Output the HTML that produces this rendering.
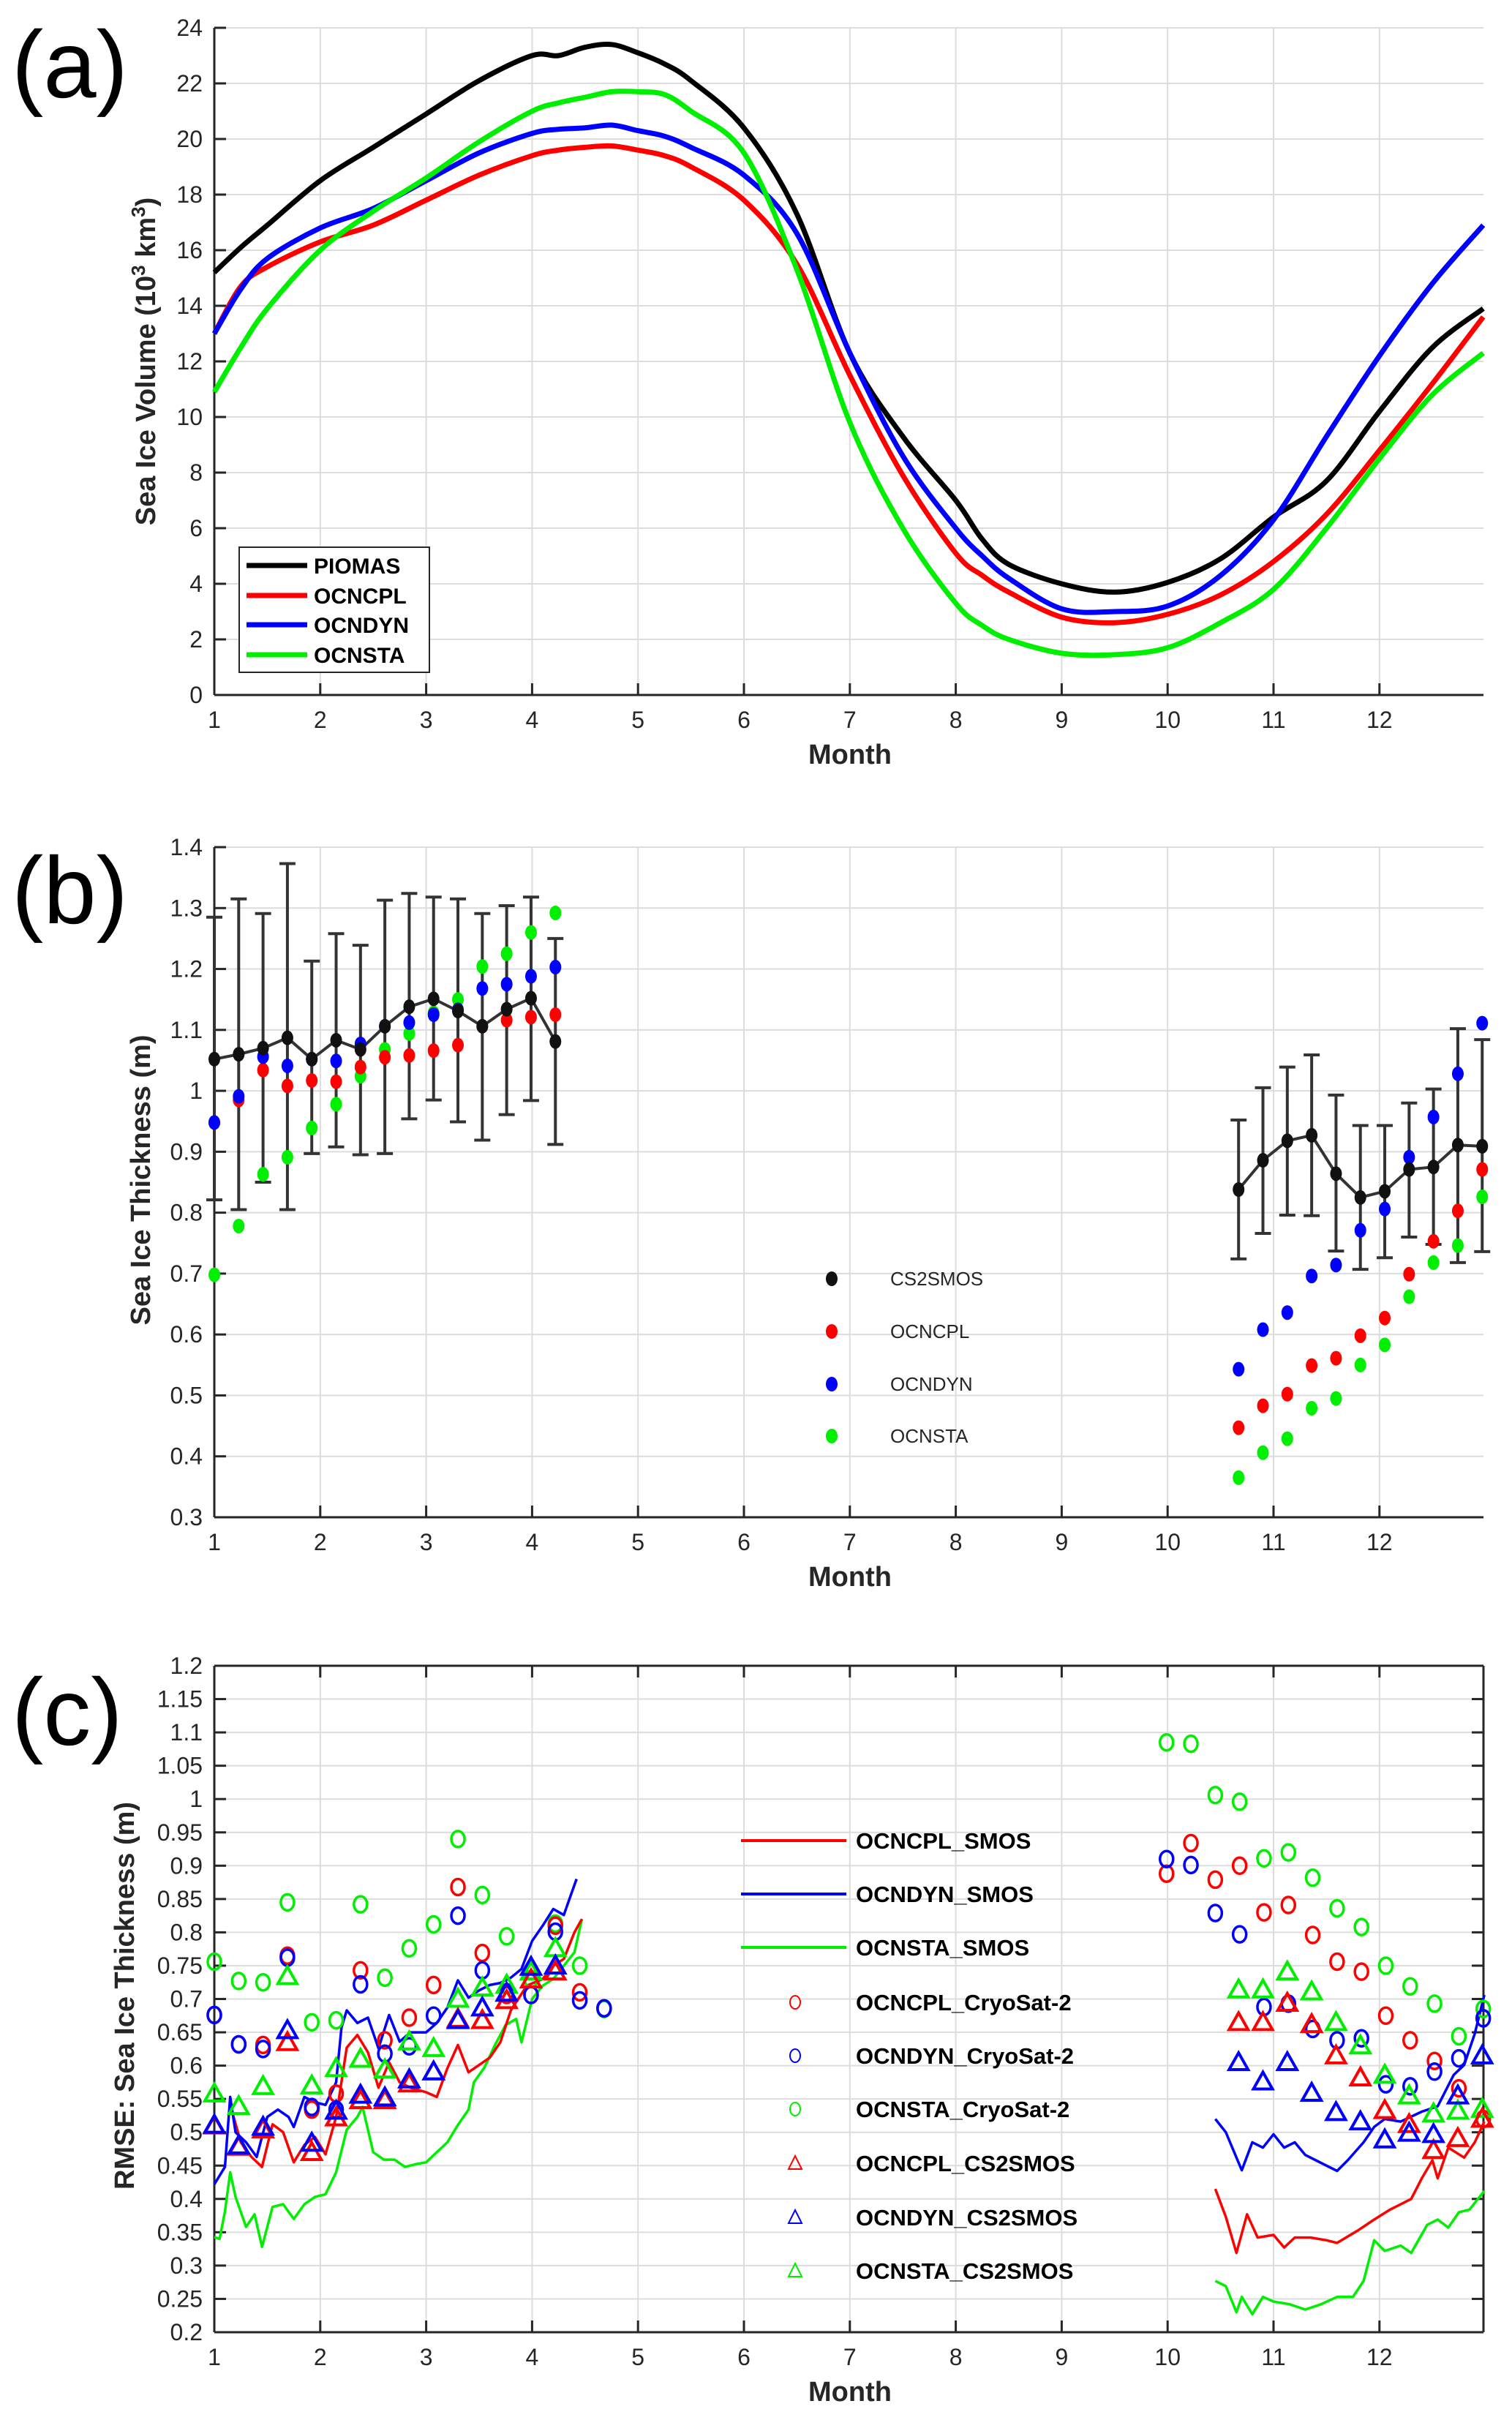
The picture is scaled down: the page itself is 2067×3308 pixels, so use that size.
<!DOCTYPE html>
<html><head><meta charset="utf-8"><title>Sea ice charts</title>
<style>
html,body{margin:0;padding:0;background:#fff;}
svg{display:block;font-family:"Liberation Sans",sans-serif;}
.tick{font-size:32px;fill:#262626;}
.ttl{font-size:38px;font-weight:bold;fill:#262626;}
</style></head>
<body>
<svg id="fig" width="2067" height="3308" viewBox="0 0 2067 3308" xmlns="http://www.w3.org/2000/svg">
<rect width="2067" height="3308" fill="#fff"/>
</svg>
<script>
// ---------- DATA ----------
const monthTicks=[1,2,3,4,5,6,7,8,9,10,11,12];
// Panel (a)
const aMonths=[1,1.25,1.5,2,2.5,3,3.5,4,4.25,4.5,4.75,5,5.25,5.5,6,6.5,7,7.5,8,8.25,8.5,9,9.5,10,10.5,11,11.5,12,12.5,12.98];
const aPIOMAS=[15.2,16.1,16.9,18.5,19.7,20.9,22.1,23.0,23.0,23.3,23.4,23.1,22.7,22.1,20.4,17.3,12.3,9.3,7.0,5.6,4.7,4.0,3.7,4.05,4.9,6.4,7.7,10.2,12.5,13.9];
const aOCNCPL=[13.0,14.7,15.4,16.3,16.9,17.8,18.7,19.4,19.6,19.7,19.75,19.6,19.4,19.0,17.8,15.5,11.5,7.9,5.1,4.3,3.7,2.8,2.6,2.9,3.6,4.8,6.5,8.8,11.2,13.6];
const aOCNDYN=[13.0,14.6,15.7,16.8,17.5,18.5,19.5,20.2,20.35,20.4,20.5,20.3,20.1,19.7,18.7,16.6,12.3,8.6,6.0,5.0,4.2,3.1,3.0,3.2,4.3,6.3,9.3,12.2,14.8,16.9];
const aOCNSTA=[10.9,12.5,13.9,16.0,17.4,18.6,19.9,21.0,21.3,21.5,21.7,21.7,21.6,21.0,19.5,15.3,9.8,6.0,3.3,2.5,2.0,1.5,1.45,1.7,2.6,3.8,6.0,8.5,10.8,12.3];
const aTicks=[0,2,4,6,8,10,12,14,16,18,20,22,24];
// Panel (b)
const bMonths1=[1,1.23,1.46,1.69,1.92,2.15,2.38,2.61,2.84,3.07,3.30,3.53,3.76,3.99,4.22];
const bCS1=[1.052,1.060,1.070,1.087,1.052,1.083,1.068,1.106,1.138,1.151,1.131,1.106,1.134,1.152,1.081];
const bUp1=[1.285,1.315,1.291,1.373,1.213,1.258,1.239,1.313,1.324,1.318,1.315,1.291,1.304,1.318,1.250];
const bLo1=[0.821,0.805,0.850,0.805,0.897,0.908,0.895,0.897,0.954,0.985,0.949,0.919,0.961,0.984,0.912];
const bCPL1=[0.948,0.985,1.034,1.008,1.017,1.015,1.039,1.055,1.058,1.066,1.075,1.106,1.116,1.121,1.125];
const bDYN1=[0.948,0.991,1.056,1.041,1.052,1.049,1.077,1.106,1.112,1.125,1.133,1.168,1.175,1.188,1.203];
const bSTA1=[0.698,0.778,0.863,0.891,0.939,0.978,1.024,1.068,1.094,1.128,1.150,1.204,1.225,1.260,1.292];
const bMonths2=[10.67,10.90,11.13,11.36,11.59,11.82,12.05,12.28,12.51,12.74,12.97];
const bCS2=[0.838,0.886,0.918,0.927,0.864,0.825,0.835,0.871,0.875,0.911,0.909];
const bUp2=[0.952,1.005,1.039,1.059,0.993,0.943,0.943,0.980,1.003,1.102,1.084];
const bLo2=[0.724,0.766,0.796,0.795,0.737,0.707,0.726,0.760,0.748,0.718,0.736];
const bCPL2=[0.447,0.483,0.502,0.549,0.561,0.598,0.627,0.699,0.753,0.803,0.871];
const bDYN2=[0.543,0.608,0.636,0.696,0.714,0.771,0.806,0.891,0.957,1.028,1.111];
const bSTA2=[0.365,0.406,0.429,0.479,0.495,0.550,0.583,0.662,0.718,0.746,0.826];
const bTicks=[0.3,0.4,0.5,0.6,0.7,0.8,0.9,1,1.1,1.2,1.3,1.4];
// Panel (c) lines
const cCPLm1=[1.15,1.25,1.35,1.45,1.55,1.65,1.75,1.85,1.95,2.05,2.15,2.25,2.35,2.45,2.55,2.65,2.75,2.85,3.0,3.1,3.2,3.3,3.4,3.5,3.6,3.7,3.8,3.95,4.1,4.2,4.3,4.4,4.47];
const cCPLv1=[0.541,0.485,0.463,0.448,0.512,0.500,0.455,0.481,0.493,0.467,0.523,0.627,0.646,0.620,0.567,0.605,0.575,0.567,0.560,0.553,0.596,0.631,0.590,0.601,0.612,0.635,0.683,0.72,0.73,0.75,0.76,0.80,0.82];
const cDYNm1=[1.0,1.1,1.15,1.2,1.3,1.4,1.5,1.6,1.7,1.75,1.85,1.95,2.05,2.15,2.2,2.25,2.35,2.45,2.55,2.65,2.75,2.85,3.0,3.1,3.2,3.3,3.4,3.5,3.6,3.7,3.8,3.9,4.0,4.1,4.2,4.3,4.35,4.42];
const cDYNv1=[0.422,0.448,0.553,0.500,0.485,0.463,0.523,0.534,0.523,0.508,0.553,0.545,0.541,0.575,0.657,0.683,0.664,0.672,0.626,0.676,0.636,0.650,0.650,0.664,0.687,0.728,0.702,0.713,0.721,0.724,0.732,0.745,0.787,0.810,0.835,0.826,0.849,0.880];
const cSTAm1=[1.0,1.05,1.1,1.15,1.2,1.3,1.38,1.45,1.55,1.65,1.75,1.85,1.95,2.05,2.15,2.25,2.35,2.4,2.5,2.6,2.7,2.8,2.9,3.0,3.1,3.2,3.3,3.4,3.45,3.55,3.65,3.75,3.85,3.9,4.0,4.1,4.2,4.3,4.4,4.47];
const cSTAv1=[0.343,0.340,0.381,0.440,0.403,0.358,0.377,0.328,0.388,0.392,0.370,0.392,0.403,0.407,0.440,0.504,0.523,0.538,0.470,0.459,0.459,0.448,0.452,0.455,0.470,0.485,0.511,0.534,0.575,0.597,0.631,0.661,0.67,0.635,0.70,0.72,0.73,0.75,0.77,0.82];
const cDYNm2=[10.45,10.55,10.65,10.7,10.8,10.9,11.0,11.1,11.2,11.3,11.4,11.5,11.6,11.7,11.85,11.95,12.05,12.2,12.4,12.55,12.7,12.8,12.9,12.99];
const cDYNv2=[0.520,0.500,0.462,0.443,0.485,0.477,0.497,0.477,0.485,0.466,0.458,0.450,0.442,0.458,0.485,0.508,0.520,0.516,0.531,0.539,0.586,0.601,0.648,0.706];
const cCPLm2=[10.45,10.55,10.65,10.75,10.85,11.0,11.1,11.2,11.35,11.5,11.6,11.8,11.95,12.1,12.3,12.4,12.5,12.55,12.65,12.8,12.9,12.99];
const cCPLv2=[0.415,0.373,0.319,0.377,0.342,0.346,0.327,0.342,0.342,0.338,0.334,0.353,0.369,0.384,0.400,0.431,0.458,0.431,0.477,0.462,0.485,0.516];
const cSTAm2=[10.45,10.55,10.65,10.7,10.8,10.9,11.0,11.15,11.3,11.45,11.6,11.75,11.85,11.95,12.05,12.2,12.3,12.45,12.55,12.65,12.75,12.85,12.99];
const cSTAv2=[0.277,0.269,0.230,0.253,0.227,0.253,0.246,0.242,0.234,0.242,0.253,0.253,0.277,0.338,0.322,0.330,0.319,0.361,0.369,0.357,0.380,0.384,0.412];
// Panel (c) CryoSat-2 circles
const cCircM1=[1,1.23,1.46,1.69,1.92,2.15,2.38,2.61,2.84,3.07,3.30,3.53,3.76,3.99,4.22,4.45,4.68];
const cCircCPL1=[0.676,0.632,0.631,0.765,0.534,0.558,0.743,0.638,0.672,0.721,0.868,0.769,0.706,0.706,0.810,0.710,0.686];
const cCircDYN1=[0.676,0.632,0.625,0.762,0.538,0.534,0.722,0.618,0.629,0.675,0.825,0.743,0.710,0.706,0.801,0.698,0.686];
const cCircSTA1=[0.756,0.727,0.725,0.845,0.665,0.668,0.842,0.732,0.776,0.812,0.940,0.856,0.794,0.73,0.813,0.750,0.685];
const cCircM2=[9.99,10.22,10.45,10.68,10.91,11.14,11.37,11.60,11.83,12.06,12.29,12.52,12.75,12.98];
const cCircCPL2=[0.888,0.934,0.879,0.900,0.830,0.841,0.796,0.756,0.741,0.675,0.638,0.607,0.566,0.520];
const cCircDYN2=[0.910,0.901,0.829,0.797,0.688,0.693,0.655,0.638,0.641,0.572,0.569,0.591,0.611,0.671];
const cCircSTA2=[1.085,1.083,1.006,0.996,0.911,0.920,0.882,0.836,0.808,0.750,0.719,0.693,0.644,0.685];
// Panel (c) CS2SMOS triangles
const cTriM1=[1,1.23,1.46,1.69,1.92,2.15,2.38,2.61,2.84,3.07,3.30,3.53,3.76,3.99,4.22];
const cTriCPL1=[0.51,0.478,0.504,0.635,0.470,0.522,0.548,0.548,0.573,0.591,0.670,0.668,0.698,0.729,0.741];
const cTriDYN1=[0.511,0.480,0.508,0.653,0.484,0.532,0.556,0.552,0.579,0.591,0.668,0.687,0.709,0.748,0.75];
const cTriSTA1=[0.558,0.539,0.569,0.734,0.570,0.596,0.610,0.594,0.636,0.626,0.700,0.717,0.721,0.741,0.776];
const cTriM2=[10.67,10.90,11.13,11.36,11.59,11.82,12.05,12.28,12.51,12.74,12.97];
const cTriCPL2=[0.665,0.665,0.694,0.662,0.615,0.582,0.533,0.512,0.473,0.491,0.520];
const cTriDYN2=[0.605,0.576,0.605,0.559,0.530,0.516,0.489,0.499,0.497,0.555,0.615];
const cTriSTA2=[0.714,0.714,0.741,0.711,0.665,0.630,0.586,0.555,0.528,0.532,0.535];
const cTicks=[0.2,0.25,0.3,0.35,0.4,0.45,0.5,0.55,0.6,0.65,0.7,0.75,0.8,0.85,0.9,0.95,1,1.05,1.1,1.15,1.2];

// ---------- HELPERS ----------
const NS="http://www.w3.org/2000/svg";
const svg=document.getElementById('fig');
const X0=293,X1=2028,PXM=144.8;
function xs(m){return X0+(m-1)*PXM;}
function mk(tag,attrs,parent){const e=document.createElementNS(NS,tag);for(const k in attrs)e.setAttribute(k,attrs[k]);(parent||svg).appendChild(e);return e;}
function yscale(p){return v=>p.yb-(v-p.vmin)/(p.vmax-p.vmin)*(p.yb-p.yt);}
function fmt(v){return String(+v.toFixed(2));}

function drawAxes(p,ticks,name,box){
  const g=mk('g',{});
  
  
  const ys=yscale(p);
  // grid
  monthTicks.forEach(m=>{const l=mk('line',{x1:xs(m),x2:xs(m),y1:p.yt,y2:p.yb,stroke:'#dcdcdc','stroke-width':2},g);
    
    });
  ticks.forEach(t=>{const l=mk('line',{x1:X0,x2:X1,y1:ys(t),y2:ys(t),stroke:'#dcdcdc','stroke-width':2},g);
    
    });
  // axes
  mk('line',{x1:X0,x2:X0,y1:p.yt,y2:p.yb,stroke:'#262626','stroke-width':3},g);
  mk('line',{x1:X0,x2:X1,y1:p.yb,y2:p.yb,stroke:'#262626','stroke-width':3},g);
  if(box){mk('line',{x1:X0,x2:X1,y1:p.yt,y2:p.yt,stroke:'#262626','stroke-width':3},g);
          mk('line',{x1:X1,x2:X1,y1:p.yt,y2:p.yb,stroke:'#262626','stroke-width':3},g);}
  ticks.forEach(t=>{const y=ys(t);
    mk('line',{x1:X0,x2:X0+16,y1:y,y2:y,stroke:'#262626','stroke-width':3},g);
    if(box)mk('line',{x1:X1-16,x2:X1,y1:y,y2:y,stroke:'#262626','stroke-width':3},g);
    const tx=mk('text',{x:X0-16,y:y+11,'text-anchor':'end',class:'tick'},g);tx.textContent=fmt(t);
    
    });
  monthTicks.forEach(m=>{const x=xs(m);
    mk('line',{x1:x,x2:x,y1:p.yb,y2:p.yb-16,stroke:'#262626','stroke-width':3},g);
    if(box)mk('line',{x1:x,x2:x,y1:p.yt,y2:p.yt+16,stroke:'#262626','stroke-width':3},g);
    const tx=mk('text',{x:x,y:p.yb+45,'text-anchor':'middle',class:'tick'},g);tx.textContent=m;
    
    });
  const mt=mk('text',{x:1162,y:p.yb+94,'text-anchor':'middle',class:'ttl'},g);mt.textContent='Month';
  
  
  return ys;
}
function smoothPath(pts){let d='M'+pts[0][0]+','+pts[0][1];
  for(let i=0;i<pts.length-1;i++){const p0=pts[Math.max(0,i-1)],p1=pts[i],p2=pts[i+1],p3=pts[Math.min(pts.length-1,i+2)];
    const c1=[p1[0]+(p2[0]-p0[0])/6,p1[1]+(p2[1]-p0[1])/6],c2=[p2[0]-(p3[0]-p1[0])/6,p2[1]-(p3[1]-p1[1])/6];
    d+=' C'+c1[0].toFixed(1)+','+c1[1].toFixed(1)+' '+c2[0].toFixed(1)+','+c2[1].toFixed(1)+' '+p2[0].toFixed(1)+','+p2[1].toFixed(1);}
  return d;}
function panelLabel(txt,y){const t=mk('text',{x:16,y:y,'font-size':130,fill:'#000'});t.textContent=txt;
  
  }

// ---------- PANEL A ----------
panelLabel('(a)',133);
const pA={yt:38,yb:950,vmin:0,vmax:24};
const ysA=drawAxes(pA,aTicks,'panel-a',false);
{const t=mk('text',{transform:'translate(212,494) rotate(-90)','text-anchor':'middle',class:'ttl'});
 
 
 t.innerHTML='Sea Ice Volume (10<tspan dy="-14" font-size="26">3</tspan><tspan dy="14"> km</tspan><tspan dy="-14" font-size="26">3</tspan><tspan dy="14">)</tspan>';}
[[aPIOMAS,'#000','piomas'],[aOCNCPL,'#ff0000','ocncpl'],[aOCNDYN,'#0000ff','ocndyn'],[aOCNSTA,'#00ee00','ocnsta']].forEach(([vals,col,nm])=>{
  const pts=aMonths.map((m,i)=>[xs(m),ysA(vals[i])]);
  const p=mk('path',{d:smoothPath(pts),fill:'none',stroke:col,'stroke-width':7,'stroke-linejoin':'round'});
  
  
});
{const g=mk('g',{});
 
 
 mk('rect',{x:327,y:748,width:260,height:171,fill:'#fff',stroke:'#262626','stroke-width':2},g);
 [['PIOMAS','#000',773],['OCNCPL','#ff0000',814],['OCNDYN','#0000ff',854],['OCNSTA','#00ee00',895]].forEach(([n,c,y])=>{
  mk('line',{x1:337,x2:420,y1:y,y2:y,stroke:c,'stroke-width':7},g);
  const t=mk('text',{x:429,y:y+11,'font-size':30,'font-weight':'bold',fill:'#000'},g);t.textContent=n;
  
  });}

// ---------- PANEL B ----------
panelLabel('(b)',1262);
const pB={yt:1158,yb:2074,vmin:0.3,vmax:1.4};
const ysB=drawAxes(pB,bTicks,'panel-b',false);
{const t=mk('text',{transform:'translate(205,1613) rotate(-90)','text-anchor':'middle',class:'ttl'});t.textContent='Sea Ice Thickness (m)';
 
 }
function dots(ms,vals,col,nm){vals.forEach((v,i)=>{const c=mk('ellipse',{cx:xs(ms[i]),cy:ysB(v),rx:8,ry:10,fill:col});
  
  });}
function errbars(ms,up,lo,cs){
  ms.forEach((m,i)=>{const x=xs(m);
    const g=mk('g',{stroke:'#333','stroke-width':4});
    
    
    mk('line',{x1:x,x2:x,y1:ysB(up[i]),y2:ysB(lo[i])},g);
    mk('line',{x1:x-11,x2:x+11,y1:ysB(up[i]),y2:ysB(up[i])},g);
    mk('line',{x1:x-11,x2:x+11,y1:ysB(lo[i]),y2:ysB(lo[i])},g);});
  const pl=mk('polyline',{points:ms.map((m,i)=>xs(m)+','+ysB(cs[i])).join(' '),fill:'none',stroke:'#333','stroke-width':4});
  
  }
errbars(bMonths1,bUp1,bLo1,bCS1);errbars(bMonths2,bUp2,bLo2,bCS2);
dots(bMonths1,bSTA1,'#00ee00','ocnsta');dots(bMonths2,bSTA2,'#00ee00','ocnsta');
dots(bMonths1,bCPL1,'#ff0000','ocncpl');dots(bMonths2,bCPL2,'#ff0000','ocncpl');
dots(bMonths1,bDYN1,'#0000ff','ocndyn');dots(bMonths2,bDYN2,'#0000ff','ocndyn');
dots(bMonths1,bCS1,'#111','cs2smos');dots(bMonths2,bCS2,'#111','cs2smos');
{const g=mk('g',{});
 
 
 [['CS2SMOS','#111',1748],['OCNCPL','#ff0000',1820],['OCNDYN','#0000ff',1892],['OCNSTA','#00ee00',1963]].forEach(([n,c,y])=>{
  mk('ellipse',{cx:1137,cy:y,rx:8,ry:10,fill:c},g);
  const t=mk('text',{x:1217,y:y+9,'font-size':26,fill:'#262626'},g);t.textContent=n;
  
  });}

// ---------- PANEL C ----------
panelLabel('(c)',2385);
const pC={yt:2277,yb:3188,vmin:0.2,vmax:1.2};
const ysC=drawAxes(pC,cTicks,'panel-c',true);
{const t=mk('text',{transform:'translate(183,2728) rotate(-90)','text-anchor':'middle',class:'ttl'});t.textContent='RMSE: Sea Ice Thickness (m)';
 
 }
function cline(ms,vals,col,nm){const pl=mk('polyline',{points:ms.map((m,i)=>xs(m).toFixed(1)+','+ysC(vals[i]).toFixed(1)).join(' '),fill:'none',stroke:col,'stroke-width':3.5,'stroke-linejoin':'round'});
  
  }
function circ(ms,vals,col,nm){vals.forEach((v,i)=>{const c=mk('ellipse',{cx:xs(ms[i]),cy:ysC(v),rx:9,ry:11,fill:'none',stroke:col,'stroke-width':3.5});
  
  });}
function tri(ms,vals,col,nm){vals.forEach((v,i)=>{const x=xs(ms[i]),y=ysC(v);
  const t=mk('polygon',{points:(x-13)+','+(y+10)+' '+(x+13)+','+(y+10)+' '+x+','+(y-13),fill:'none',stroke:col,'stroke-width':4});
  
  });}
cline(cSTAm1,cSTAv1,'#00ee00','ocnsta-smos');cline(cSTAm2,cSTAv2,'#00ee00','ocnsta-smos');
cline(cCPLm1,cCPLv1,'#ff0000','ocncpl-smos');cline(cCPLm2,cCPLv2,'#ff0000','ocncpl-smos');
cline(cDYNm1,cDYNv1,'#0000ff','ocndyn-smos');cline(cDYNm2,cDYNv2,'#0000ff','ocndyn-smos');
circ(cCircM1,cCircSTA1,'#00ee00','ocnsta-cryosat2');circ(cCircM2,cCircSTA2,'#00ee00','ocnsta-cryosat2');
circ(cCircM1,cCircCPL1,'#ff0000','ocncpl-cryosat2');circ(cCircM2,cCircCPL2,'#ff0000','ocncpl-cryosat2');
circ(cCircM1,cCircDYN1,'#0000ff','ocndyn-cryosat2');circ(cCircM2,cCircDYN2,'#0000ff','ocndyn-cryosat2');
tri(cTriM1,cTriSTA1,'#00ee00','ocnsta-cs2smos');tri(cTriM2,cTriSTA2,'#00ee00','ocnsta-cs2smos');
tri(cTriM1,cTriCPL1,'#ff0000','ocncpl-cs2smos');tri(cTriM2,cTriCPL2,'#ff0000','ocncpl-cs2smos');
tri(cTriM1,cTriDYN1,'#0000ff','ocndyn-cs2smos');tri(cTriM2,cTriDYN2,'#0000ff','ocndyn-cs2smos');
{const g=mk('g',{});
 
 
 const rows=[['OCNCPL_SMOS','#ff0000','l'],['OCNDYN_SMOS','#0000ff','l'],['OCNSTA_SMOS','#00ee00','l'],
  ['OCNCPL_CryoSat-2','#ff0000','c'],['OCNDYN_CryoSat-2','#0000ff','c'],['OCNSTA_CryoSat-2','#00ee00','c'],
  ['OCNCPL_CS2SMOS','#ff0000','t'],['OCNDYN_CS2SMOS','#0000ff','t'],['OCNSTA_CS2SMOS','#00ee00','t']];
 const rowY=[2516,2589,2662,2737,2810,2883,2957,3031,3104];
 rows.forEach(([n,c,k],i)=>{const y=rowY[i];
  if(k==='l')mk('line',{x1:1013,x2:1157,y1:y,y2:y,stroke:c,'stroke-width':4},g);
  else if(k==='c')mk('ellipse',{cx:1087,cy:y,rx:7,ry:9,fill:'none',stroke:c,'stroke-width':2},g);
  else mk('polygon',{points:(1087-9)+','+(y+8)+' '+(1087+9)+','+(y+8)+' 1087,'+(y-10),fill:'none',stroke:c,'stroke-width':2},g);
  const t=mk('text',{x:1170,y:y+11,'font-size':31,'font-weight':'bold',fill:'#000'},g);t.textContent=n;
  
  });}
</script>
</body></html>
